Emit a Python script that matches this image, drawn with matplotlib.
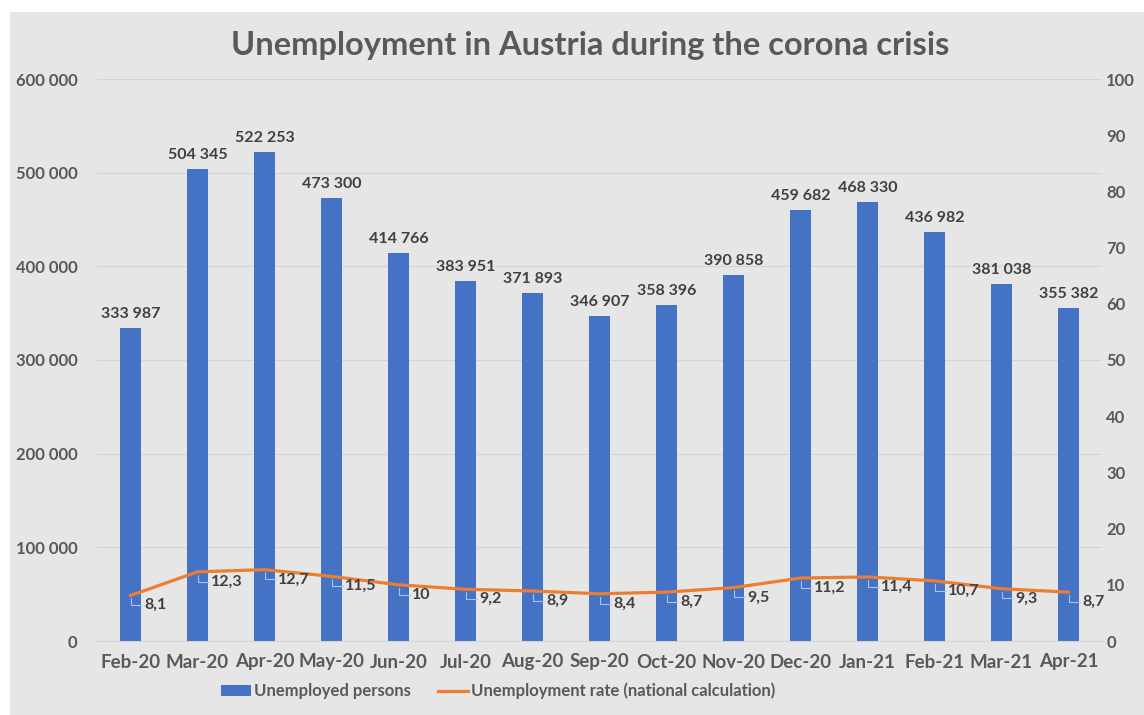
import matplotlib.pyplot as plt
from matplotlib.patches import Rectangle, Patch
from matplotlib.lines import Line2D
from matplotlib.ticker import FuncFormatter

months = ["Feb-20", "Mar-20", "Apr-20", "May-20", "Jun-20", "Jul-20", "Aug-20", "Sep-20",
          "Oct-20", "Nov-20", "Dec-20", "Jan-21", "Feb-21", "Mar-21", "Apr-21"]
persons = [333987, 504345, 522253, 473300, 414766, 383951, 371893, 346907,
           358396, 390858, 459682, 468330, 436982, 381038, 355382]
rate = [8.1, 12.3, 12.7, 11.5, 10, 9.2, 8.9, 8.4, 8.7, 9.5, 11.2, 11.4, 10.7, 9.3, 8.7]

plt.rcParams["font.family"] = ["Lato", "DejaVu Sans"]
plt.rcParams["font.weight"] = "bold"

txt = "#595959"
blue = "#4472c4"
orange = "#ed7d31"

fig = plt.figure(figsize=(11.44, 7.15), dpi=100)
fig.patch.set_facecolor("white")
fig.add_artist(Rectangle((10 / 1144, 0), 1, 1 - 12 / 715, transform=fig.transFigure,
                         facecolor="#e7e6e6", edgecolor="none", zorder=-10))

ax = fig.add_axes([97 / 1144, 1 - 641 / 715, 1005 / 1144, 562 / 715])
ax.set_facecolor("none")
x = list(range(len(months)))
ax.bar(x, persons, width=0.31, color=blue, zorder=2)
for xi, v in zip(x, persons):
    ax.annotate(f"{v:,}".replace(",", " "), (xi, v), xytext=(0, 5), textcoords="offset points",
                ha="center", va="bottom", fontsize=11.5, color="#404040", fontweight="bold")

ax.set_xlim(-0.5, len(months) - 0.5)
ax.set_ylim(0, 600000)
ax.set_yticks(range(0, 600001, 100000))
ax.yaxis.set_major_formatter(FuncFormatter(lambda v, p: f"{int(v):,}".replace(",", " ")))
ax.set_xticks(x)
ax.set_xticklabels(months)
ax.tick_params(axis="x", length=0, pad=9, labelsize=13.5, labelcolor=txt)
ax.tick_params(axis="y", length=0, pad=14, labelsize=12, labelcolor=txt)
ax.grid(axis="y", color="#d4d4d4", linewidth=0.8, zorder=1)
for s in ax.spines.values():
    s.set_visible(False)
ax.spines["bottom"].set_visible(True)
ax.spines["bottom"].set_color("#d4d4d4")

ax2 = ax.twinx()
ax2.plot(x, rate, color=orange, linewidth=2.3, zorder=3)
ax2.set_ylim(0, 100)
ax2.set_yticks(range(0, 101, 10))
ax2.tick_params(axis="y", length=0, pad=3, labelsize=12, labelcolor=txt)
for s in ax2.spines.values():
    s.set_visible(False)
for xi, v in zip(x, rate):
    ax2.annotate(f"{v:g}".replace(".", ","), (xi, v), xytext=(10, -7), textcoords="offset points",
                 ha="left", va="center", fontsize=11.5, color="#404040", fontweight="bold",
                 arrowprops=dict(arrowstyle="-", color="#a9c4eb", lw=0.8, shrinkA=0, shrinkB=2,
                                 connectionstyle="angle,angleA=0,angleB=90,rad=0"))

fig.text(590 / 1144, 1 - 45 / 715, "Unemployment in Austria during the corona crisis",
         ha="center", va="center", fontsize=23.5, color=txt, fontweight="bold")

handles = [Patch(facecolor=blue, label="Unemployed persons"),
           Line2D([0], [0], color=orange, linewidth=2.3, label="Unemployment rate (national calculation)")]
leg = fig.legend(handles=handles, loc="center", bbox_to_anchor=(498 / 1144, 1 - 691 / 715), ncol=2,
                 frameon=False, fontsize=12, handlelength=1.8,
                 handleheight=0.6, columnspacing=1.6, handletextpad=0.2)
for t in leg.get_texts():
    t.set_color(txt)
    t.set_fontweight("bold")
    t.set_fontfamily(["Lato", "DejaVu Sans"])

fig.savefig("out.png", dpi=100)
